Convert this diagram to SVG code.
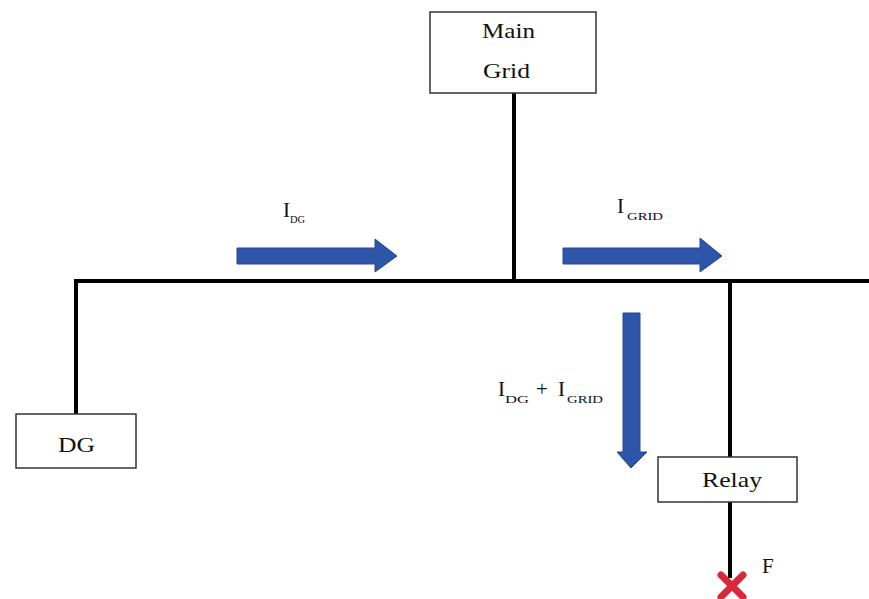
<svg xmlns="http://www.w3.org/2000/svg" width="869" height="599" viewBox="0 0 869 599">
<style>
.box{fill:#fff;stroke:#333;stroke-width:1.5}
.wire{stroke:#000;stroke-width:4;fill:none}
.t{font-family:"Liberation Serif",serif;fill:#111;font-size:21px}
.s{font-family:"Liberation Serif",serif;fill:#111;font-size:11px}
.arr{fill:#2f55a8;stroke:#27469a;stroke-width:1}
</style>
<rect width="869" height="599" fill="#fff"/>
<g id="connectors">
<path class="wire" d="M514,93 V281"/>
<path class="wire" d="M869,281 H76 V414"/>
<path class="wire" d="M730,281 V457"/>
<path class="wire" d="M730,502 V578"/>
</g>
<g id="main-grid">
<rect class="box" x="430" y="12" width="166" height="81"/>
<text class="t" x="482" y="38" textLength="53" lengthAdjust="spacingAndGlyphs">Main</text>
<text class="t" x="483" y="78" textLength="47" lengthAdjust="spacingAndGlyphs">Grid</text>
</g>
<g id="dg">
<rect class="box" x="16" y="414" width="120" height="54"/>
<text class="t" x="58" y="452" textLength="37" lengthAdjust="spacingAndGlyphs">DG</text>
</g>
<g id="relay">
<rect class="box" x="658" y="457" width="139" height="45"/>
<text class="t" x="702" y="487" textLength="60" lengthAdjust="spacingAndGlyphs">Relay</text>
</g>
<g id="arrow-idg">
<polygon class="arr" points="237,248 375,248 375,239 397,256 375,272 375,264 237,264"/>
<text class="t" x="283" y="217">I</text>
<text class="s" x="290" y="223" textLength="15" lengthAdjust="spacingAndGlyphs">DG</text>
</g>
<g id="arrow-igrid">
<polygon class="arr" points="563,248 700,248 700,238 722,256 700,272 700,264 563,264"/>
<text class="t" x="617" y="213">I</text>
<text class="s" x="627" y="220" textLength="36" lengthAdjust="spacingAndGlyphs">GRID</text>
</g>
<g id="arrow-sum">
<polygon class="arr" points="623,313 640,313 640,452 647,452 631,468 617,452 623,452"/>
<text class="t" x="498" y="396">I</text>
<text class="s" x="505" y="403" textLength="24" lengthAdjust="spacingAndGlyphs">DG</text>
<text class="t" x="536" y="396">+</text>
<text class="t" x="558" y="396">I</text>
<text class="s" x="567" y="403" textLength="36" lengthAdjust="spacingAndGlyphs">GRID</text>
</g>
<g id="fault">
<path d="M721,575 L743,597 M743,575 L721,597" stroke="#d8283c" stroke-width="7" stroke-linecap="round"/>
<text class="t" x="762" y="573" font-size="19">F</text>
</g>
</svg>
